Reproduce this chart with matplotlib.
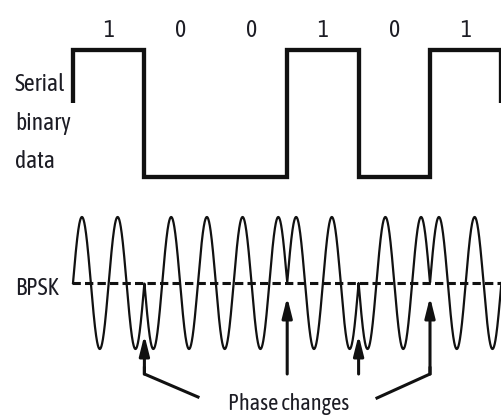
import matplotlib
matplotlib.use('Agg')
import matplotlib.pyplot as plt
import numpy as np
from matplotlib import font_manager as fm
from matplotlib.patches import FancyArrowPatch

# ---- data ----
bits = [1, 0, 0, 1, 0, 1]
bit_labels = ['1', '0', '0', '1', '0', '1']
cycles_per_bit = 2
label_data = ['Serial', 'binary', 'data']
label_bpsk = 'BPSK'
label_phase = 'Phase changes'

names = {f.name for f in fm.fontManager.ttflist}
FONT = 'Liberation Sans'
for cand in ['Asap Condensed', 'PT Sans Narrow', 'Archivo Narrow',
             'Roboto Condensed', 'Barlow Condensed', 'Liberation Sans Narrow']:
    if cand in names:
        FONT = cand
        break
TXT = '#1c1c24'
INK = '#111111'
TKW = dict(family=FONT, fontweight='normal', color=TXT)

W, H = 502, 419
fig = plt.figure(figsize=(W / 100, H / 100), dpi=100)
ax = fig.add_axes([0, 0, 1, 1])
ax.set_xlim(0, W)
ax.set_ylim(H, 0)
ax.axis('off')

# layout
x0, bw = 73.0, 71.4
y_hi, y_lo, y_tail = 50, 177, 103
n = len(bits)
edges = x0 + bw * np.arange(n + 1)

# ---- serial binary data (square wave) ----
xs, ys = [x0], [y_tail]
for i, b in enumerate(bits):
    lvl = y_hi if b else y_lo
    xs += [edges[i], edges[i + 1]]
    ys += [lvl, lvl]
xs.append(edges[-1])
ys.append(y_tail)
ax.plot(xs, ys, color=INK, lw=3.1, solid_joinstyle='miter', solid_capstyle='butt')

for i, lab in enumerate(bit_labels):
    ax.text(edges[i] + bw / 2, 37, lab, ha='center', va='baseline',
            fontsize=17, **TKW)

for k, line in enumerate(label_data):
    ax.text(15, 91 + 38.5 * k, line, ha='left', va='baseline',
            fontsize=17, **TKW)

# ---- BPSK ----
yc, A = 283, 66
t = np.linspace(0, n, 4000)
idx = np.minimum(t.astype(int), n - 1)
sign = np.where(np.array(bits)[idx] == 1, 1.0, -1.0)
yw = yc - A * sign * np.sin(2 * np.pi * cycles_per_bit * t)
ax.plot(x0 + bw * t, yw, color=INK, lw=1.6, solid_joinstyle='round')

plt.rcParams['lines.scale_dashes'] = False
ax.plot([x0 - 1, W], [yc, yc], color=INK, lw=2.2, dashes=(6.0, 3.0))

ax.text(15, 295, label_bpsk, ha='left', va='baseline', fontsize=17, **TKW)

# ---- phase change arrows ----
changes = [i for i in range(1, n) if bits[i] != bits[i - 1]]
y_shaft = 374
for j, i in enumerate(changes):
    x = edges[i]
    tip = yc + 14 if bits[i] == 1 else yc + 52
    arr = FancyArrowPatch((x, y_shaft), (x, tip),
                          arrowstyle='-|>,head_length=1.2,head_width=0.3',
                          mutation_scale=10, lw=2.2, color=INK,
                          shrinkA=0, shrinkB=0)
    ax.add_patch(arr)
    if j == 0:
        ax.plot([198, x, x], [397, y_shaft, y_shaft - 6], color=INK, lw=2.2,
                solid_joinstyle='miter')
    elif j == len(changes) - 1:
        ax.plot([377, x, x], [398, y_shaft, y_shaft - 6], color=INK, lw=2.2,
                solid_joinstyle='miter')

ax.text(289, 410, label_phase, ha='center', va='baseline', fontsize=16, **TKW)

fig.savefig('out.png', dpi=100)
